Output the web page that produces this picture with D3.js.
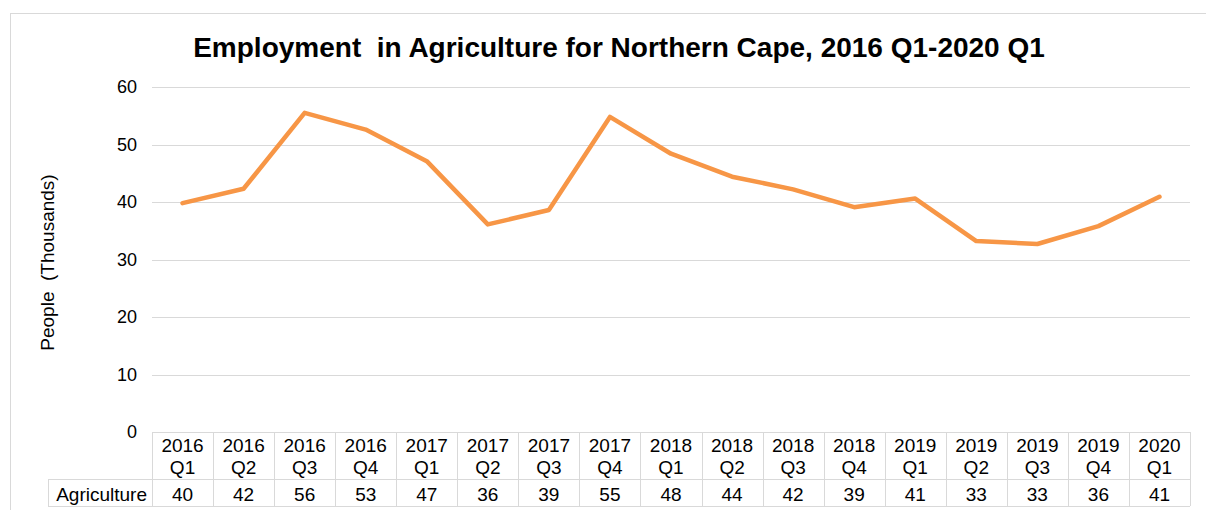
<!DOCTYPE html>
<html>
<head>
<meta charset="utf-8">
<script src="https://cdn.jsdelivr.net/npm/d3@7"></script>
<style>
  html, body { margin: 0; padding: 0; background: #fff; }
  svg { display: block; font-family: "Liberation Sans", Arial, sans-serif; }
</style>
</head>
<body>
<svg id="chart" width="1206" height="510"></svg>
<script>
// Quarterly employment in agriculture, Northern Cape (thousands)
const years = ["2016","2016","2016","2016","2017","2017","2017","2017","2018","2018","2018","2018","2019","2019","2019","2019","2020"];
const quarters = ["Q1","Q2","Q3","Q4","Q1","Q2","Q3","Q4","Q1","Q2","Q3","Q4","Q1","Q2","Q3","Q4","Q1"];
const agriculture = [39.8, 42.3, 55.5, 52.6, 47.1, 36.1, 38.6, 54.8, 48.4, 44.4, 42.2, 39.1, 40.6, 33.2, 32.7, 35.8, 40.9];
const yTicks = [0, 10, 20, 30, 40, 50, 60];
const seriesName = "Agriculture";
const title = "Employment  in Agriculture for Northern Cape, 2016 Q1-2020 Q1";
const yTitle = "People  (Thousands)";

const categories = years.map((y, i) => y + " " + quarters[i]);

const svg = d3.select("#chart");
const gridColor = "#d9d9d9";
const lineColor = "#f79646";

const plot = { left: 152, right: 1190, top: 87, bottom: 432 };
const tableLeft = 48, headerBottom = 479, tableBottom = 506;
const fs = 19;

// chart area border
svg.append("rect")
  .attr("x", 10.5).attr("y", 13.5)
  .attr("width", 1220).attr("height", 520)
  .attr("fill", "none").attr("stroke", gridColor);

const x = d3.scaleBand().domain(categories).range([plot.left, plot.right]).padding(0);
const y = d3.scaleLinear().domain([0, 60]).range([plot.bottom, plot.top]);

// title
svg.append("text")
  .attr("x", 619).attr("y", 57)
  .attr("text-anchor", "middle")
  .attr("font-size", 28).attr("font-weight", "bold")
  .attr("fill", "#000")
  .attr("xml:space", "preserve")
  .style("white-space", "pre")
  .text(title);

// horizontal gridlines
svg.append("g")
  .selectAll("line")
  .data(yTicks.filter(t => t > 0))
  .join("line")
  .attr("x1", plot.left).attr("x2", plot.right)
  .attr("y1", d => Math.round(y(d)) + 0.5).attr("y2", d => Math.round(y(d)) + 0.5)
  .attr("stroke", gridColor).attr("stroke-width", 1);

// y axis labels
const yAxis = d3.axisLeft(y).tickValues(yTicks).tickSize(0).tickPadding(0);
const gy = svg.append("g").attr("transform", `translate(${plot.left - 15},0)`).call(yAxis);
gy.select(".domain").remove();
gy.selectAll("text")
  .attr("font-size", 18).attr("fill", "#000")
  .attr("font-family", "Liberation Sans, Arial, sans-serif");

// y axis title
svg.append("text")
  .attr("transform", `translate(54, ${(plot.top + plot.bottom) / 2 + 3}) rotate(-90)`)
  .attr("text-anchor", "middle")
  .attr("font-size", 19).attr("fill", "#000")
  .attr("xml:space", "preserve")
  .style("white-space", "pre")
  .text(yTitle);

// data table below the plot
const tg = svg.append("g");
const step = x.bandwidth();
// horizontal rules
[[plot.left, plot.bottom], [tableLeft, headerBottom], [tableLeft, tableBottom]].forEach(([x0, yy]) => {
  tg.append("line")
    .attr("x1", x0).attr("x2", plot.right)
    .attr("y1", yy + 0.5).attr("y2", yy + 0.5)
    .attr("stroke", gridColor);
});
// vertical rules
tg.append("line")
  .attr("x1", tableLeft + 0.5).attr("x2", tableLeft + 0.5)
  .attr("y1", headerBottom).attr("y2", tableBottom)
  .attr("stroke", gridColor);
const edges = categories.map(c => x(c)).concat([plot.right]);
tg.selectAll("line.col")
  .data(edges)
  .join("line")
  .attr("class", "col")
  .attr("x1", d => Math.round(d) + 0.5).attr("x2", d => Math.round(d) + 0.5)
  .attr("y1", plot.bottom).attr("y2", tableBottom)
  .attr("stroke", gridColor);

// category headers
const hdr = tg.selectAll("g.hdr")
  .data(categories)
  .join("g")
  .attr("class", "hdr")
  .attr("transform", d => `translate(${x(d) + step / 2},0)`);
hdr.append("text")
  .attr("y", 452).attr("text-anchor", "middle")
  .attr("font-size", fs).attr("fill", "#000")
  .text((d, i) => years[i]);
hdr.append("text")
  .attr("y", 474).attr("text-anchor", "middle")
  .attr("font-size", fs).attr("fill", "#000")
  .text((d, i) => quarters[i]);

// series row
tg.append("text")
  .attr("x", 147).attr("y", 501)
  .attr("text-anchor", "end")
  .attr("font-size", fs).attr("fill", "#000")
  .text(seriesName);
const fmt = d3.format(".0f");
tg.selectAll("text.val")
  .data(agriculture)
  .join("text")
  .attr("class", "val")
  .attr("x", (d, i) => x(categories[i]) + step / 2)
  .attr("y", 501)
  .attr("text-anchor", "middle")
  .attr("font-size", fs).attr("fill", "#000")
  .text(d => fmt(d));

// line
const line = d3.line()
  .x((d, i) => x(categories[i]) + step / 2)
  .y(d => y(d));
svg.append("path")
  .datum(agriculture)
  .attr("d", line)
  .attr("fill", "none")
  .attr("stroke", lineColor)
  .attr("stroke-width", 4.5)
  .attr("stroke-linejoin", "round")
  .attr("stroke-linecap", "round");
</script>
</body>
</html>
